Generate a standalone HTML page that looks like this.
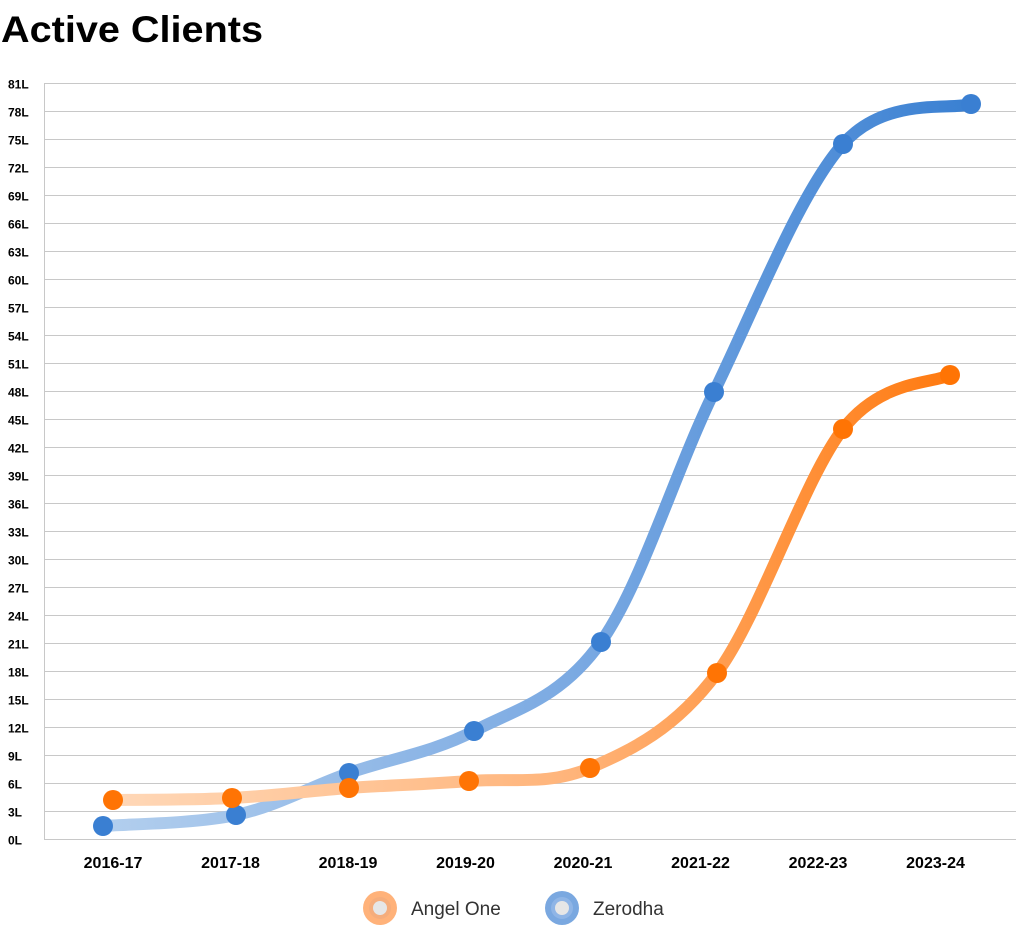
<!DOCTYPE html>
<html><head><meta charset="utf-8"><style>
body{margin:0;background:#fff;width:1016px;height:925px;overflow:hidden;font-family:"Liberation Sans",sans-serif}
</style></head><body>
<svg id="s" width="1016" height="925" xmlns="http://www.w3.org/2000/svg">
<defs>
<linearGradient id="gz" x1="100" x2="971" y1="0" y2="0" gradientUnits="userSpaceOnUse"><stop offset="0" stop-color="#b3cfee"/><stop offset="0.55" stop-color="#7aa9e2"/><stop offset="1" stop-color="#3a80d2"/></linearGradient>
<linearGradient id="ga" x1="110" x2="950" y1="0" y2="0" gradientUnits="userSpaceOnUse"><stop offset="0" stop-color="#ffd8b8"/><stop offset="0.55" stop-color="#ffb47a"/><stop offset="1" stop-color="#ff7a10"/></linearGradient>
</defs>
<text x="1" y="42" font-size="37" font-weight="bold" fill="#000" textLength="262" lengthAdjust="spacingAndGlyphs">Active Clients</text>
<g id="grid"></g>
<path id="pz" fill="none" stroke="url(#gz)" stroke-width="12" stroke-linecap="round"/>
<path id="pa" fill="none" stroke="url(#ga)" stroke-width="12" stroke-linecap="round"/>
<g id="dots"></g>
<circle cx="380" cy="908" r="17" fill="#ffb27a"/><circle cx="380" cy="908" r="11" fill="#f5ad7c"/><circle cx="380" cy="908" r="7" fill="#e6e6e6"/>
<text x="411" y="915" font-size="19" fill="#333">Angel One</text>
<circle cx="562" cy="908" r="17" fill="#7aa8e0"/><circle cx="562" cy="908" r="11" fill="#8fb5e6"/><circle cx="562" cy="908" r="7" fill="#e6e6e6"/>
<text x="593" y="915" font-size="19" fill="#333">Zerodha</text>
</svg>
<script>
var ns="http://www.w3.org/2000/svg",g=document.getElementById('grid');
function el(t,a,p){var e=document.createElementNS(ns,t);for(var k in a)e.setAttribute(k,a[k]);(p||g).appendChild(e);return e;}
for(var i=0;i<=27;i++){var y=839.5-i*(756/27);
el('line',{x1:44,x2:1016,y1:y,y2:y,stroke:'#c8c8c8','stroke-width':1});
var t=el('text',{x:8,y:y+5,'font-size':12,'font-weight':'bold',fill:'#000'});t.textContent=(i*3)+'L';}
el('line',{x1:44.5,x2:44.5,y1:83,y2:840,stroke:'#c8c8c8'});
var yrs=['2016-17','2017-18','2018-19','2019-20','2020-21','2021-22','2022-23','2023-24'];
yrs.forEach(function(s,i){var t=el('text',{x:113+i*117.5,y:868,'font-size':16,'font-weight':'bold','text-anchor':'middle',fill:'#000'});t.textContent=s;});
function cr(p){var d='M'+p[0][0]+','+p[0][1];for(var i=0;i<p.length-1;i++){var p0=p[i-1]||p[i],p1=p[i],p2=p[i+1],p3=p[i+2]||p2;
d+=' C'+(p1[0]+(p2[0]-p0[0])/6)+','+(p1[1]+(p2[1]-p0[1])/6)+' '+(p2[0]-(p3[0]-p1[0])/6)+','+(p2[1]-(p3[1]-p1[1])/6)+' '+p2[0]+','+p2[1];}return d;}
var z=[[103,826],[236,815],[349,773],[474,731],[601,642],[714,392],[843,144],[971,104]];
var a=[[113,800],[232,798],[349,788],[469,781],[590,768],[717,673],[843,429],[950,375]];
document.getElementById('pz').setAttribute('d',cr(z));
document.getElementById('pa').setAttribute('d',cr(a));
var D=document.getElementById('dots');
z.forEach(function(p){el('circle',{cx:p[0],cy:p[1],r:10,fill:'#3a7fd2'},D);});
a.forEach(function(p){el('circle',{cx:p[0],cy:p[1],r:10,fill:'#ff7404'},D);});
</script>
</body></html>
